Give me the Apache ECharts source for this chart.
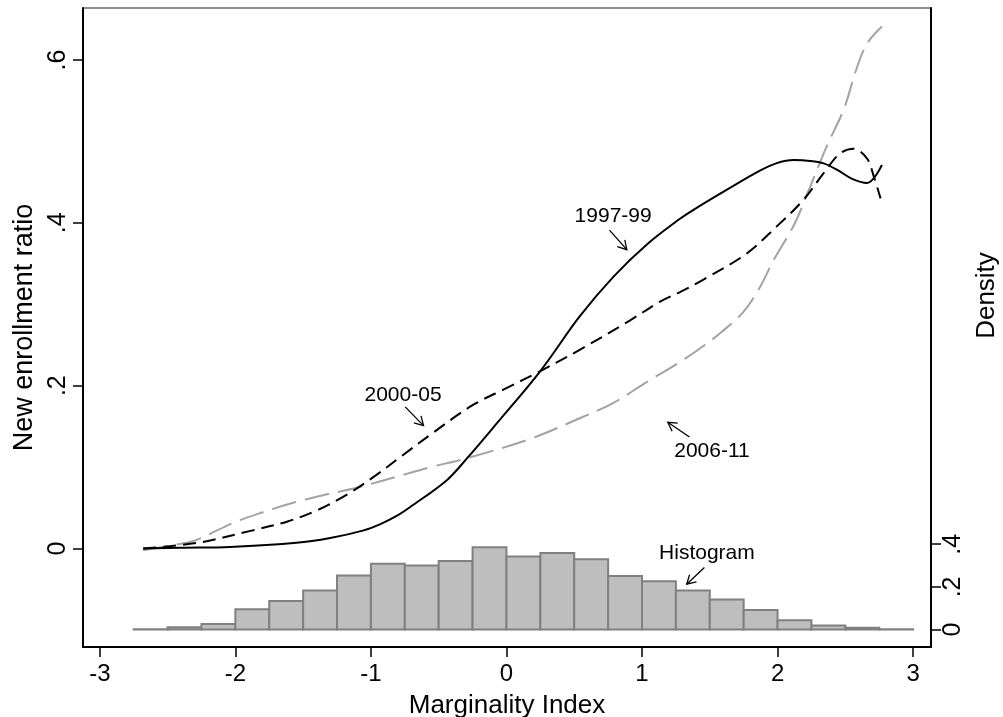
<!DOCTYPE html>
<html><head><meta charset="utf-8">
<script src="https://cdn.jsdelivr.net/npm/echarts@6/dist/echarts.min.js"></script>
<style>html,body{margin:0;padding:0;background:#fff}#c{width:1003px;height:717px}</style>
</head><body><div id="c"></div>
<script>
// ---- data ----
const x1997 = [-2.68,-2.4,-2.04,-1.55,-1.3,-1.06,-0.93,-0.81,-0.71,-0.44,-0.29,-0.07,0.25,0.54,0.79,1.04,1.28,1.38,1.63,1.87,1.99,2.12,2.24,2.34,2.44,2.55,2.66,2.77];
const y1997 = [0.0,0.001,0.002,0.007,0.013,0.022,0.030,0.040,0.051,0.084,0.111,0.154,0.218,0.285,0.334,0.374,0.405,0.416,0.441,0.464,0.473,0.477,0.476,0.473,0.465,0.454,0.449,0.471];

const x2000 = [-2.68,-2.28,-1.88,-1.62,-1.41,-1.18,-0.98,-0.77,-0.56,-0.25,0.0,0.25,0.54,0.91,1.13,1.28,1.45,1.77,1.99,2.19,2.34,2.46,2.56,2.66,2.71,2.76];
const y2000 = [0.0,0.007,0.022,0.033,0.046,0.066,0.088,0.114,0.14,0.176,0.197,0.218,0.244,0.28,0.303,0.315,0.33,0.362,0.395,0.428,0.461,0.485,0.491,0.479,0.457,0.43];

const x2006 = [-2.68,-2.4,-2.28,-2.01,-1.79,-1.58,-1.34,-1.1,-0.73,-0.56,-0.29,0.18,0.54,0.79,1.04,1.26,1.43,1.58,1.75,1.87,1.97,2.12,2.24,2.36,2.49,2.58,2.66,2.77];
const y2006 = [-0.002,0.006,0.011,0.032,0.045,0.056,0.066,0.075,0.092,0.100,0.111,0.135,0.16,0.179,0.205,0.227,0.246,0.265,0.291,0.321,0.354,0.397,0.444,0.493,0.54,0.588,0.62,0.641];

const binStarts = [-2.75,-2.5,-2.25,-2,-1.75,-1.5,-1.25,-1,-0.75,-0.5,-0.25,0,0.25,0.5,0.75,1,1.25,1.5,1.75,2,2.25,2.5,2.75];
const binWidth = 0.25;
const densities = [0.002,0.011,0.026,0.095,0.134,0.183,0.253,0.309,0.300,0.322,0.386,0.342,0.359,0.330,0.251,0.226,0.183,0.141,0.092,0.044,0.019,0.009,0.002];

const xTicks = [-3,-2,-1,0,1,2,3];
const yTicks = [0,0.2,0.4,0.6];
const densityTicks = [0,0.2,0.4];

const labels = [
  {text:'1997-99', at:[0.787,0.408], from:[0.760,0.391], to:[0.888,0.367]},
  {text:'2000-05', at:[-0.763,0.188], from:[-0.747,0.174], to:[-0.612,0.151]},
  {text:'2006-11', at:[1.516,0.1195], from:[1.35,0.137], to:[1.19,0.155]},
  {text:'Histogram', at:[1.479,-0.0058], from:[1.460,-0.0233], to:[1.330,-0.0438]}
];

// ---- chart ----
const FONT = "'Liberation Sans', Arial, Helvetica, sans-serif";
const fmt = v => { if (Math.abs(v) < 1e-9) return '0'; let s = String(Math.round(v*10)/10); return s.replace(/^0\./,'.').replace(/^-0\./,'-.'); };
const zip = (a,b) => a.map((v,i)=>[v,b[i]]);

const chart = echarts.init(document.getElementById('c'), null, {renderer:'canvas'});
const option = {
  animation:false,
  backgroundColor:'#fff',
  grid:{left:83, right:72, top:8, bottom:70, show:true, borderColor:'#222', borderWidth:1, containLabel:false, outerBoundsMode:'none'},
  xAxis:{type:'value', min:-3.124, max:3.132,
    name:'Marginality Index', nameLocation:'middle', nameGap:46,
    nameTextStyle:{fontFamily:FONT, fontSize:26, color:'#000'},
    axisLine:{show:true, onZero:false, lineStyle:{color:'#000', width:2}},
    axisTick:{show:true, length:10, lineStyle:{color:'#000', width:1.5}, customValues:xTicks},
    axisLabel:{fontFamily:FONT, fontSize:24, color:'#000', margin:15, customValues:xTicks, formatter:v=>String(v)},
    splitLine:{show:false}},
  yAxis:[
    {type:'value', min:-0.1209, max:0.6638, position:'left',
     name:'New enrollment ratio', nameLocation:'middle', nameGap:44, nameRotate:90,
     nameTextStyle:{fontFamily:FONT, fontSize:27, color:'#000'},
     axisLine:{show:true, onZero:false, lineStyle:{color:'#000', width:2}},
     axisTick:{show:true, length:10, lineStyle:{color:'#000', width:1.5}, customValues:yTicks},
     axisLabel:{fontFamily:FONT, fontSize:25, color:'#000', rotate:90, margin:12, customValues:yTicks, formatter:fmt},
     splitLine:{show:false}},
    {type:'value', min:-0.0816, max:2.913, position:'right',
     name:'Density', nameLocation:'middle', nameGap:40, nameRotate:90,
     nameTextStyle:{fontFamily:FONT, fontSize:26, color:'#000', padding:[0,0,0,64]},
     axisLine:{show:true, onZero:false, lineStyle:{color:'#000', width:2}},
     axisTick:{show:true, length:10, lineStyle:{color:'#000', width:1.5}, customValues:densityTicks},
     axisLabel:{fontFamily:FONT, fontSize:25, color:'#000', rotate:90, margin:10, customValues:densityTicks, formatter:fmt},
     splitLine:{show:false}}
  ],
  series:[
    {type:'custom', yAxisIndex:1, coordinateSystem:'cartesian2d', z:1,
     data: binStarts.map((s,i)=>[s, s+binWidth, densities[i]]),
     encode:{x:[0,1], y:2},
     renderItem:(params, api)=>{
       const p0 = api.coord([api.value(0), 0]);
       const p1 = api.coord([api.value(1), api.value(2)]);
       return {type:'rect', shape:{x:p0[0], y:p1[1], width:p1[0]-p0[0], height:p0[1]-p1[1]},
               style:{fill:'#bebebe', stroke:'#808080', lineWidth:2}};
     }},
    {type:'line', name:'2006-11', data:zip(x2006,y2006), showSymbol:false, smooth:0.35, z:3,
     lineStyle:{color:'#a3a3a3', width:2, type:[25,9]}},
    {type:'line', name:'2000-05', data:zip(x2000,y2000), showSymbol:false, smooth:0.35, z:4,
     lineStyle:{color:'#000', width:2, type:[13,7]}},
    {type:'line', name:'1997-99', data:zip(x1997,y1997), showSymbol:false, smooth:0.35, z:5,
     lineStyle:{color:'#000', width:2}}
  ]
};
chart.setOption(option);

// annotations positioned in data coordinates
const toPx = p => chart.convertToPixel({xAxisIndex:0, yAxisIndex:0}, p);
const gfx = [];
labels.forEach(l=>{
  const c = toPx(l.at);
  gfx.push({type:'text', x:c[0], y:c[1], style:{text:l.text, fontFamily:FONT, fontSize:21, fill:'#000', align:'center', verticalAlign:'middle'}, z:10});
  const a = toPx(l.from), b = toPx(l.to);
  const ang = Math.atan2(b[1]-a[1], b[0]-a[0]);
  const L = 10, w = Math.PI/6;
  const h1 = [b[0]-L*Math.cos(ang-w), b[1]-L*Math.sin(ang-w)];
  const h2 = [b[0]-L*Math.cos(ang+w), b[1]-L*Math.sin(ang+w)];
  gfx.push({type:'line', shape:{x1:a[0],y1:a[1],x2:b[0],y2:b[1]}, style:{stroke:'#000', lineWidth:1.3}, z:10});
  gfx.push({type:'polyline', shape:{points:[h1,b,h2]}, style:{stroke:'#000', lineWidth:1.3, fill:null}, z:10});
});
chart.setOption({graphic:gfx});
</script></body></html>
